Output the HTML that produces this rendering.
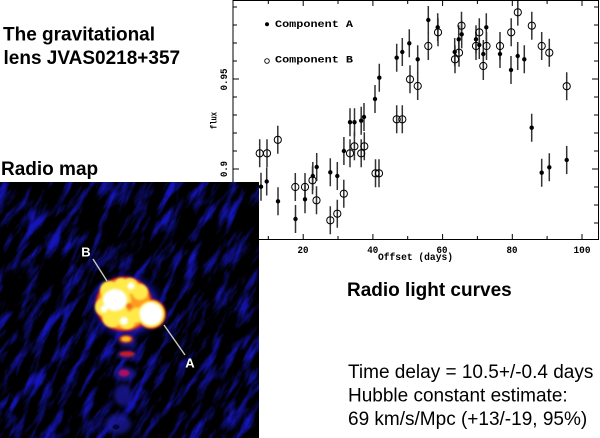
<!DOCTYPE html>
<html><head><meta charset="utf-8">
<style>
html,body{margin:0;padding:0;background:#fff;width:600px;height:438px;overflow:hidden;}
svg{display:block;}
</style></head>
<body>
<svg width="600" height="438" viewBox="0 0 600 438" xmlns="http://www.w3.org/2000/svg" style="overflow:hidden">
<defs>
  <radialGradient id="halo" cx="0.5" cy="0.5" r="0.5">
    <stop offset="0" stop-color="#3434ff" stop-opacity="1"/>
    <stop offset="0.65" stop-color="#2424e0" stop-opacity="0.8"/>
    <stop offset="1" stop-color="#000080" stop-opacity="0"/>
  </radialGradient>
  <filter id="b1" x="-50%" y="-50%" width="200%" height="200%"><feGaussianBlur stdDeviation="1.1"/></filter>
  <filter id="b2" x="-50%" y="-50%" width="200%" height="200%"><feGaussianBlur stdDeviation="2.2"/></filter>
  <filter id="tex" x="0" y="0" width="1" height="1" filterUnits="objectBoundingBox" color-interpolation-filters="sRGB">
    <feTurbulence type="fractalNoise" baseFrequency="0.11 0.028" numOctaves="4" seed="7"/>
    <feColorMatrix type="matrix" values="0 0 0 0 0.08  0 0 0 0 0.08  0 0 0 0 0.72  3.2 0 0 0 -1.5"/>
  </filter>
  <pattern id="texp" patternUnits="userSpaceOnUse" x="0" y="0" width="800" height="800" patternTransform="rotate(30 130 310) translate(-200 -200)">
    <rect x="0" y="0" width="800" height="800" fill="#000" filter="url(#tex)"/>
  </pattern>
  <clipPath id="mapclip"><rect x="0" y="182" width="259" height="256"/></clipPath>
</defs>

<!-- ===== Chart ===== -->
<g stroke="#000" stroke-width="1" fill="none">
  <line x1="233" y1="0" x2="233" y2="240"/>
  <line x1="233" y1="0.5" x2="599" y2="0.5"/>
  <line x1="598.5" y1="0" x2="598.5" y2="240"/>
  <line x1="233" y1="239.5" x2="599" y2="239.5"/>
  <path d="M233 7h4M233 25h4M233 43h4M233 61h4M233 79h6M233 97h4M233 115h4M233 133h4M233 151h4M233 169h6M233 187h4M233 205h4M233 223h4"/>
  <path d="M598 7h-4M598 25h-4M598 43h-4M598 61h-4M598 79h-6M598 97h-4M598 115h-4M598 133h-4M598 151h-4M598 169h-6M598 187h-4M598 205h-4M598 223h-4"/>
  <path d="M268.3 239v-3M303.2 239v-5M338 239v-3M372.9 239v-5M407.7 239v-3M442.6 239v-5M477.4 239v-3M512.3 239v-5M547.1 239v-3M582 239v-5"/>
  <path d="M268.3 1v3M303.2 1v5M338 1v3M372.9 1v5M407.7 1v3M442.6 1v5M477.4 1v3M512.3 1v5M547.1 1v3M582 1v5"/>
</g>

<!-- error bars -->
<g stroke="#333" stroke-width="1.5" fill="none">
  <path d="M261 172.7v28M266.7 167.5v28M278 187.3v28M295.5 205v28M305 185.3v28M312.8 162v28M316.7 153v28M330.3 158.3v28M337.3 162v28M343.9 137v28M350 108.2v28M354.5 108.2v28M361.2 106.7v28M364 103v28M375 85v28M379.3 63.7v28M396.7 43.7v28M402.3 38v28M409.3 29.3v28M417.7 45.3v28M428.3 6v28M437.7 13.3v28M454.7 38v28M458.7 25.3v28M461.7 20.3v28M476 25.3v28M479.3 31v28M483.3 40v28M486.3 13.3v28M500 40v28M511 56v28M517.7 42v28M524.3 45.3v28M531.7 113.7v28M541.7 158.7v28M549.3 153.3v28M566.7 146v28"/>
  <path d="M259.7 139.3v28M267 139.3v28M277.8 125.8v28M295.3 173v28M305 173v28M312.5 166.3v28M316.5 186.3v28M330.3 206.3v28M337.3 199.7v28M343.8 179.7v28M350 139.3v28M354.4 132.3v28M361.2 139.3v28M364.3 132.3v28M375.5 159.3v28M379 159.3v28M396.7 105.3v28M402.3 105.3v28M410 65.3v28M417.7 72v28M428.3 32v28M438 18.3v28M455 45.3v28M459 38.7v28M461.5 11.7v28M476 32v28M479.3 18.3v28M483.3 52v28M486.5 32v28M500 32v28M511.2 18.3v28M517.8 1v24.6M531.8 11.7v28M541.7 32v28M549.3 38.7v28M566.7 72.2v28"/>
</g>

<!-- Component A filled -->
<g fill="#000">
  <circle cx="261" cy="186.7" r="2.2"/><circle cx="266.7" cy="181.5" r="2.2"/><circle cx="278" cy="201.3" r="2.2"/>
  <circle cx="295.5" cy="219" r="2.2"/><circle cx="305" cy="199.3" r="2.2"/><circle cx="312.8" cy="176" r="2.2"/>
  <circle cx="316.7" cy="167" r="2.2"/><circle cx="330.3" cy="172.3" r="2.2"/><circle cx="337.3" cy="176" r="2.2"/>
  <circle cx="343.9" cy="151" r="2.2"/><circle cx="350" cy="122.2" r="2.2"/><circle cx="354.5" cy="122.2" r="2.2"/>
  <circle cx="361.2" cy="120.7" r="2.2"/><circle cx="364" cy="117" r="2.2"/><circle cx="375" cy="99" r="2.2"/>
  <circle cx="379.3" cy="77.7" r="2.2"/><circle cx="396.7" cy="57.7" r="2.2"/><circle cx="402.3" cy="52" r="2.2"/>
  <circle cx="409.3" cy="43.3" r="2.2"/><circle cx="417.7" cy="59.3" r="2.2"/><circle cx="428.3" cy="20" r="2.2"/>
  <circle cx="437.7" cy="27.3" r="2.2"/><circle cx="454.7" cy="52" r="2.2"/><circle cx="458.7" cy="39.3" r="2.2"/>
  <circle cx="461.7" cy="34.3" r="2.2"/><circle cx="476" cy="39.3" r="2.2"/><circle cx="479.3" cy="45" r="2.2"/>
  <circle cx="483.3" cy="54" r="2.2"/><circle cx="486.3" cy="27.3" r="2.2"/><circle cx="500" cy="54" r="2.2"/>
  <circle cx="511" cy="70" r="2.2"/><circle cx="517.7" cy="56" r="2.2"/><circle cx="524.3" cy="59.3" r="2.2"/>
  <circle cx="531.7" cy="127.7" r="2.2"/><circle cx="541.7" cy="172.7" r="2.2"/><circle cx="549.3" cy="167.3" r="2.2"/>
  <circle cx="566.7" cy="160" r="2.2"/>
</g>

<!-- Component B open -->
<g fill="none" stroke="#000" stroke-width="1">
  <circle cx="259.7" cy="153.3" r="3.6"/><circle cx="267" cy="153.3" r="3.6"/><circle cx="277.8" cy="139.8" r="3.6"/>
  <circle cx="295.3" cy="187" r="3.6"/><circle cx="305" cy="187" r="3.6"/><circle cx="312.5" cy="180.3" r="3.6"/>
  <circle cx="316.5" cy="200.3" r="3.6"/><circle cx="330.3" cy="220.3" r="3.6"/><circle cx="337.3" cy="213.7" r="3.6"/>
  <circle cx="343.8" cy="193.7" r="3.6"/><circle cx="350" cy="153.3" r="3.6"/><circle cx="354.4" cy="146.3" r="3.6"/>
  <circle cx="361.2" cy="153.3" r="3.6"/><circle cx="364.3" cy="146.3" r="3.6"/><circle cx="375.5" cy="173.3" r="3.6"/>
  <circle cx="379" cy="173.3" r="3.6"/><circle cx="396.7" cy="119.3" r="3.6"/><circle cx="402.3" cy="119.3" r="3.6"/>
  <circle cx="410" cy="79.3" r="3.6"/><circle cx="417.7" cy="86" r="3.6"/><circle cx="428.3" cy="46" r="3.6"/>
  <circle cx="438" cy="32.3" r="3.6"/><circle cx="455" cy="59.3" r="3.6"/><circle cx="459" cy="52.7" r="3.6"/>
  <circle cx="461.5" cy="25.7" r="3.6"/><circle cx="476" cy="46" r="3.6"/><circle cx="479.3" cy="32.3" r="3.6"/>
  <circle cx="483.3" cy="66" r="3.6"/><circle cx="486.5" cy="46" r="3.6"/><circle cx="500" cy="46" r="3.6"/>
  <circle cx="511.2" cy="32.3" r="3.6"/><circle cx="517.8" cy="12.3" r="3.6"/><circle cx="531.8" cy="25.7" r="3.6"/>
  <circle cx="541.7" cy="46" r="3.6"/><circle cx="549.3" cy="52.7" r="3.6"/><circle cx="566.7" cy="86.2" r="3.6"/>
</g>

<!-- legend -->
<circle cx="267" cy="24.3" r="2" fill="#000"/>
<circle cx="267" cy="61" r="2.3" fill="none" stroke="#000" stroke-width="0.9"/>
<g font-family="Liberation Mono, monospace" font-weight="bold" font-size="10.5" fill="#000">
  <text x="275" y="26.8" textLength="78" lengthAdjust="spacingAndGlyphs">Component A</text>
  <text x="275" y="62.5" textLength="78" lengthAdjust="spacingAndGlyphs">Component B</text>
</g>

<!-- tick labels -->
<g font-family="Liberation Mono, monospace" font-weight="bold" font-size="10" fill="#000" text-anchor="middle">
  <text x="303" y="253" textLength="11" lengthAdjust="spacingAndGlyphs">20</text>
  <text x="372.8" y="253" textLength="11" lengthAdjust="spacingAndGlyphs">40</text>
  <text x="442" y="253" textLength="11" lengthAdjust="spacingAndGlyphs">60</text>
  <text x="512" y="253" textLength="11" lengthAdjust="spacingAndGlyphs">80</text>
  <text x="582" y="253" textLength="17" lengthAdjust="spacingAndGlyphs">100</text>
  <text x="415.5" y="260" textLength="75" lengthAdjust="spacingAndGlyphs">Offset (days)</text>
  <text transform="translate(227,79.5) rotate(-90)" textLength="22" lengthAdjust="spacingAndGlyphs">0.95</text>
  <text transform="translate(227,169) rotate(-90)" textLength="16" lengthAdjust="spacingAndGlyphs">0.9</text>
  <text transform="translate(216.5,120.5) rotate(-90)" font-size="9" textLength="17" lengthAdjust="spacingAndGlyphs">flux</text>
</g>

<!-- ===== Radio map ===== -->
<g clip-path="url(#mapclip)">
  <rect x="0" y="182" width="259" height="256" fill="#000"/>
  <rect x="0" y="182" width="259" height="256" fill="url(#texp)"/>
  <!-- jet column -->
  <g filter="url(#b2)" opacity="0.7">
    <ellipse cx="127" cy="340" rx="9" ry="7" fill="#2222c0"/>
    <ellipse cx="127" cy="355" rx="10" ry="4" fill="#2222c0"/>
    <ellipse cx="125" cy="374" rx="10" ry="7" fill="#2222c0"/>
    <ellipse cx="123" cy="395" rx="9" ry="11" fill="#1e1eb0"/>
    <ellipse cx="118" cy="424" rx="13" ry="10" fill="#1c1ca8"/>
  </g>
  <ellipse cx="116" cy="427" rx="3.5" ry="2.5" fill="#000018" opacity="0.7"/>
  <!-- halo -->
  <ellipse cx="127" cy="306" rx="40" ry="36" fill="url(#halo)"/>
  <!-- red base -->
  <g filter="url(#b1)">
    <ellipse cx="124" cy="304" rx="28.5" ry="27.5" fill="#d41818"/>
    <circle cx="151" cy="314" r="15" fill="#d41818"/>
    <ellipse cx="124" cy="304" rx="26" ry="25" fill="#ff9a20"/>
    <circle cx="151" cy="314" r="13.5" fill="#ff9a20"/>
  </g>
  <!-- yellow lumps -->
  <g fill="#ffea48" filter="url(#b1)">
    <circle cx="116" cy="300" r="15"/>
    <circle cx="130" cy="286" r="8"/>
    <circle cx="140" cy="292" r="8"/>
    <circle cx="104" cy="307" r="9"/>
    <circle cx="112" cy="318" r="9.5"/>
    <circle cx="127" cy="320" r="9"/>
    <circle cx="137" cy="315" r="7.5"/>
    <circle cx="109" cy="290" r="9"/>
    <circle cx="121" cy="284" r="6"/>
    <circle cx="151" cy="314" r="13"/>
  </g>
  <circle cx="129" cy="306" r="3" fill="#f06a18" filter="url(#b1)"/>
  <g fill="#ffffff" filter="url(#b1)">
    <ellipse cx="115" cy="300" rx="12" ry="11"/>
    <circle cx="131" cy="286" r="3.5"/>
    <circle cx="104" cy="309" r="3.5"/>
    <circle cx="124" cy="321" r="4"/>
    <circle cx="151" cy="314" r="11.5"/>
  </g>
  <!-- jet knots -->
  <g filter="url(#b1)">
    <ellipse cx="126" cy="339" rx="7" ry="4" fill="#d82810"/>
    <ellipse cx="126" cy="339" rx="4.5" ry="2.3" fill="#ffc828"/>
    <ellipse cx="127" cy="354" rx="7.5" ry="2.8" fill="#c81c28"/>
    <ellipse cx="124" cy="373" rx="5.5" ry="3.5" fill="#b01060"/>
  </g>
  <!-- arrows -->
  <g stroke="#c8c8c8" stroke-width="1.4">
    <line x1="93" y1="259" x2="107" y2="281"/>
    <line x1="164" y1="325" x2="185" y2="355"/>
  </g>
  <g font-family="Liberation Sans, sans-serif" font-weight="bold" font-size="13" fill="#fff" text-anchor="middle">
    <text x="86" y="256.5">B</text>
    <text x="190" y="367.5">A</text>
  </g>
</g>

<!-- ===== Captions ===== -->
<g font-family="Liberation Sans, Arial, sans-serif" fill="#000">
  <g font-weight="bold" font-size="19">
    <text x="3" y="40.5">The gravitational</text>
    <text x="3.5" y="64">lens JVAS0218+357</text>
    <text x="1" y="175">Radio map</text>
    <text x="347" y="296">Radio light curves</text>
  </g>
  <g font-size="19">
    <text x="348" y="378">Time delay = 10.5+/-0.4 days</text>
    <text x="348" y="401.5">Hubble constant estimate:</text>
    <text x="348" y="425">69 km/s/Mpc (+13/-19, 95%)</text>
  </g>
</g>
</svg>
</body></html>
